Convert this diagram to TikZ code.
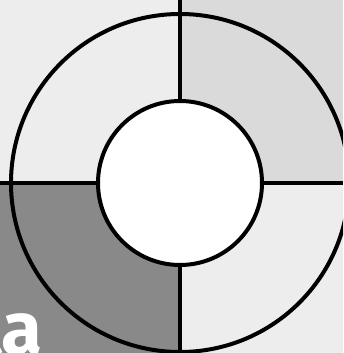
\documentclass[tikz,border=0pt]{standalone}
\usepackage{fontspec}
\setmainfont{Fira Sans}
\definecolor{bgl}{HTML}{EDEDED}
\definecolor{bgd}{HTML}{DADADA}
\definecolor{bgk}{HTML}{898989}
\begin{document}
\begin{tikzpicture}[x=0.75pt,y=-0.75pt,
  ring/.style={draw=black,line width=3pt},
  divider/.style={draw=black,line width=3pt},
  label/.style={text=white,font=\fontsize{56}{56}\selectfont\bfseries,inner sep=0pt}]
\useasboundingbox (0,0) rectangle (343,353);
\clip (0,0) rectangle (343,353);
\fill[bgl] (0,0) rectangle (343,353);
\fill[bgd] (180,0) rectangle (343,183);
\fill[bgk] (0,183) rectangle (180,353);
\coordinate (c) at (180,183);
\coordinate (top) at (180,0);
\coordinate (bot) at (180,353);
\coordinate (lft) at (0,183);
\coordinate (rgt) at (343,183);
\draw[divider] (top) -- (bot);
\draw[divider] (lft) -- (rgt);
\node[label,anchor=base east] (txt) at (43,354) {ta};
\draw[ring] (c) circle[radius=169];
\node[ring,circle,fill=white,minimum size=123pt,inner sep=0pt] (inner) at (c) {};
\end{tikzpicture}
\end{document}
